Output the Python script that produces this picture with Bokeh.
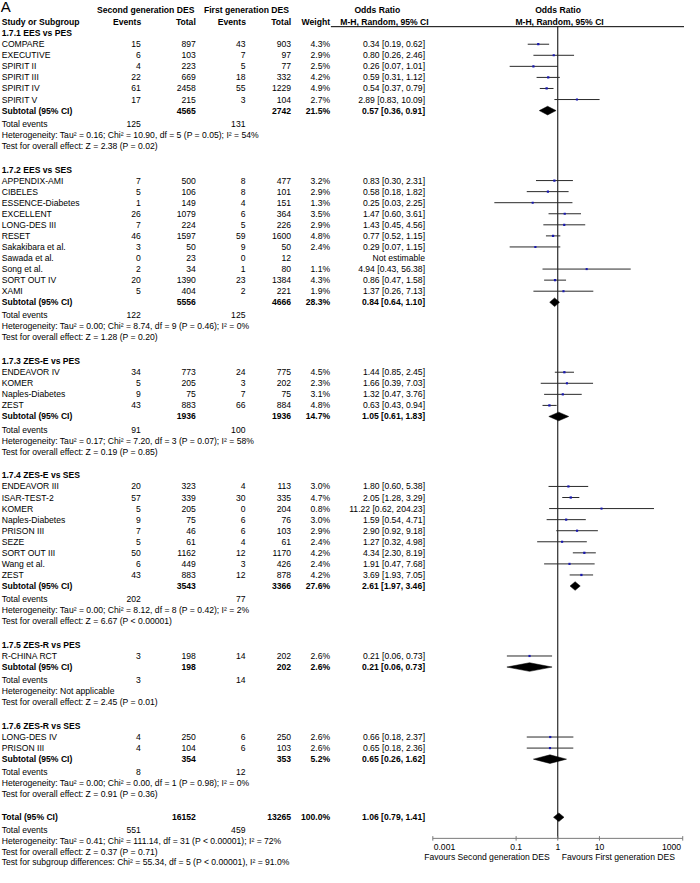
from bokeh.plotting import figure
from bokeh.models import ColumnDataSource, Range1d, LogScale
from bokeh.core.properties import value, field
from bokeh.embed import file_html
from bokeh.resources import INLINE

# ---------------- data ----------------
group_titles = ["1.7.1 EES vs PES", "1.7.2 EES vs SES", "1.7.3 ZES-E vs PES",
                "1.7.4 ZES-E vs SES", "1.7.5 ZES-R vs PES", "1.7.6 ZES-R vs SES"]

study_group = [0, 0, 0, 0, 0, 0,
               1, 1, 1, 1, 1, 1, 1, 1, 1, 1, 1,
               2, 2, 2, 2,
               3, 3, 3, 3, 3, 3, 3, 3, 3,
               4,
               5, 5]
study_names = ["COMPARE", "EXECUTIVE", "SPIRIT II", "SPIRIT III", "SPIRIT IV", "SPIRIT V",
               "APPENDIX-AMI", "CIBELES", "ESSENCE-Diabetes", "EXCELLENT", "LONG-DES III", "RESET",
               "Sakakibara et al.", "Sawada et al.", "Song et al.", "SORT OUT IV", "XAMI",
               "ENDEAVOR IV", "KOMER", "Naples-Diabetes", "ZEST",
               "ENDEAVOR III", "ISAR-TEST-2", "KOMER", "Naples-Diabetes", "PRISON III", "SEZE",
               "SORT OUT III", "Wang et al.", "ZEST",
               "R-CHINA RCT",
               "LONG-DES IV", "PRISON III"]
ev_second = [15, 6, 4, 22, 61, 17,
             7, 5, 1, 26, 7, 46, 3, 0, 2, 20, 5,
             34, 5, 9, 43,
             20, 57, 5, 9, 7, 5, 50, 6, 43,
             3,
             4, 4]
tot_second = [897, 103, 223, 669, 2458, 215,
              500, 106, 149, 1079, 224, 1597, 50, 23, 34, 1390, 404,
              773, 205, 75, 883,
              323, 339, 205, 75, 46, 61, 1162, 449, 883,
              198,
              250, 104]
ev_first = [43, 7, 5, 18, 55, 3,
            8, 8, 4, 6, 5, 59, 9, 0, 1, 23, 2,
            24, 3, 7, 66,
            4, 30, 0, 6, 6, 4, 12, 3, 12,
            14,
            6, 6]
tot_first = [903, 97, 77, 332, 1229, 104,
             477, 101, 151, 364, 226, 1600, 50, 12, 80, 1384, 221,
             775, 202, 75, 884,
             113, 335, 204, 76, 103, 61, 1170, 426, 878,
             202,
             250, 103]
weight_pct = [4.3, 2.9, 2.5, 4.2, 4.9, 2.7,
              3.2, 2.9, 1.3, 3.5, 2.9, 4.8, 2.4, None, 1.1, 4.3, 1.9,
              4.5, 2.3, 3.1, 4.8,
              3.0, 4.7, 0.8, 3.0, 2.9, 2.4, 4.2, 2.4, 4.2,
              2.6,
              2.6, 2.6]
odds_ratio = [0.34, 0.80, 0.26, 0.59, 0.54, 2.89,
              0.83, 0.58, 0.25, 1.47, 1.43, 0.77, 0.29, None, 4.94, 0.86, 1.37,
              1.44, 1.66, 1.32, 0.63,
              1.80, 2.05, 11.22, 1.59, 2.90, 1.27, 4.34, 1.91, 3.69,
              0.21,
              0.66, 0.65]
ci_low = [0.19, 0.26, 0.07, 0.31, 0.37, 0.83,
          0.30, 0.18, 0.03, 0.60, 0.45, 0.52, 0.07, None, 0.43, 0.47, 0.26,
          0.85, 0.39, 0.47, 0.43,
          0.60, 1.28, 0.62, 0.54, 0.92, 0.32, 2.30, 0.47, 1.93,
          0.06,
          0.18, 0.18]
ci_high = [0.62, 2.46, 1.01, 1.12, 0.79, 10.09,
           2.31, 1.82, 2.25, 3.61, 4.56, 1.15, 1.15, None, 56.38, 1.58, 7.13,
           2.45, 7.03, 3.76, 0.94,
           5.38, 3.29, 204.23, 4.71, 9.18, 4.98, 8.19, 7.68, 7.05,
           0.73,
           2.37, 2.36]

sub_tot_second = [4565, 5556, 1936, 3543, 198, 354]
sub_tot_first = [2742, 4666, 1936, 3366, 202, 353]
sub_weight = [21.5, 28.3, 14.7, 27.6, 2.6, 5.2]
sub_or = [0.57, 0.84, 1.05, 2.61, 0.21, 0.65]
sub_low = [0.36, 0.64, 0.61, 1.97, 0.06, 0.26]
sub_high = [0.91, 1.10, 1.83, 3.46, 0.73, 1.62]
sub_ev_second = [125, 122, 91, 202, 3, 8]
sub_ev_first = [131, 125, 100, 77, 14, 12]
sub_heterogeneity = [
    "Heterogeneity: Tau\u00b2 = 0.16; Chi\u00b2 = 10.90, df = 5 (P = 0.05); I\u00b2 = 54%",
    "Heterogeneity: Tau\u00b2 = 0.00; Chi\u00b2 = 8.74, df = 9 (P = 0.46); I\u00b2 = 0%",
    "Heterogeneity: Tau\u00b2 = 0.17; Chi\u00b2 = 7.20, df = 3 (P = 0.07); I\u00b2 = 58%",
    "Heterogeneity: Tau\u00b2 = 0.00; Chi\u00b2 = 8.12, df = 8 (P = 0.42); I\u00b2 = 2%",
    "Heterogeneity: Not applicable",
    "Heterogeneity: Tau\u00b2 = 0.00; Chi\u00b2 = 0.00, df = 1 (P = 0.98); I\u00b2 = 0%",
]
sub_effect = [
    "Test for overall effect: Z = 2.38 (P = 0.02)",
    "Test for overall effect: Z = 1.28 (P = 0.20)",
    "Test for overall effect: Z = 0.19 (P = 0.85)",
    "Test for overall effect: Z = 6.67 (P < 0.00001)",
    "Test for overall effect: Z = 2.45 (P = 0.01)",
    "Test for overall effect: Z = 0.91 (P = 0.36)",
]

total_second = 16152
total_first = 13265
total_weight = 100.0
total_or = 1.06
total_low = 0.79
total_high = 1.41
total_ev_second = 551
total_ev_first = 459
total_heterogeneity = "Heterogeneity: Tau\u00b2 = 0.41; Chi\u00b2 = 111.14, df = 31 (P < 0.00001); I\u00b2 = 72%"
total_effect = "Test for overall effect: Z = 0.37 (P = 0.71)"
subgroup_diff = "Test for subgroup differences: Chi\u00b2 = 55.34, df = 5 (P < 0.00001), I\u00b2 = 91.0%"

axis_ticks = [0.001, 0.1, 1, 10, 1000]
axis_tick_labels = ["0.001", "0.1", "1", "10", "1000"]
favours_left = "Favours Second generation DES"
favours_right = "Favours First generation DES"

# ---------------- layout (reference-pixel coordinates) ----------------
FONT = "Liberation Sans"
FS = "8.6px"
X0, X1 = 1.5, 694.0
Y_TOP, Y_BOT = 0.0, 884.0
NULL_X, DECADE = 565.7, 42.17          # pixel of OR = 1 and pixels per decade
LOG_LO = 10 ** ((X0 - NULL_X) / DECADE)
LOG_HI = 10 ** ((X1 - NULL_X) / DECADE)

X_NAME, X_EV2, X_TOT2, X_EV1, X_TOT1, X_W, X_CI = 2.7, 143.5, 199.2, 249.5, 295.7, 335.2, 431.3
ROW, GAP_TE, GAP_GRP = 11.28, 13.3, 24.2
Y_FIRST = 33.3
Y_HLINE = 26.7
Y_AXIS = 854.3
DIAM_H = 4.4

p = figure(width=684, height=867, output_backend="svg", toolbar_location=None,
           x_range=Range1d(X0, X1), y_range=Range1d(Y_BOT, Y_TOP),
           x_axis_location=None, y_axis_location=None,
           extra_x_ranges={"or": Range1d(LOG_LO, LOG_HI)},
           extra_x_scales={"or": LogScale()},
           min_border=0, background_fill_color="white", border_fill_color="white")
p.outline_line_color = None
p.grid.visible = False

T = dict(x=[], y=[], text=[], align=[], style=[])


def put(x, y, s, align="left", bold=False):
    T["x"].append(x)
    T["y"].append(y)
    T["text"].append(s)
    T["align"].append(align)
    T["style"].append("bold" if bold else "normal")


# headers
hdr_y1, hdr_y2 = 10.0, 22.0
put(148.5, hdr_y1, "Second generation DES", "center", True)
put(250.5, hdr_y1, "First generation DES", "center", True)
put(383, hdr_y1, "Odds Ratio", "center", True)
put(435, hdr_y2, "M-H, Random, 95% CI", "right", True)
put(566, hdr_y1, "Odds Ratio", "center", True)
put(567.5, hdr_y2, "M-H, Random, 95% CI", "center", True)
put(X_NAME, hdr_y2, "Study or Subgroup", "left", True)
put(X_EV2 + 0.5, hdr_y2, "Events", "right", True)
put(X_TOT2, hdr_y2, "Total", "right", True)
put(X_EV1 + 0.5, hdr_y2, "Events", "right", True)
put(X_TOT1, hdr_y2, "Total", "right", True)
put(X_W, hdr_y2, "Weight", "right", True)


def fmt_ci(o, lo, hi):
    return f"{o:.2f} [{lo:.2f}, {hi:.2f}]"


st_y = []
sub_y = []
y = Y_FIRST
for g, title in enumerate(group_titles):
    put(X_NAME, y, title, "left", True)
    for i, grp in enumerate(study_group):
        if grp != g:
            continue
        y += ROW
        st_y.append(y)
        put(X_NAME, y, study_names[i])
        put(X_EV2, y, str(ev_second[i]), "right")
        put(X_TOT2, y, str(tot_second[i]), "right")
        put(X_EV1, y, str(ev_first[i]), "right")
        put(X_TOT1, y, str(tot_first[i]), "right")
        if weight_pct[i] is not None:
            put(X_W, y, f"{weight_pct[i]:.1f}%", "right")
            put(X_CI, y, fmt_ci(odds_ratio[i], ci_low[i], ci_high[i]), "right")
        else:
            put(X_CI, y, "Not estimable", "right")
    y += ROW
    sub_y.append(y)
    put(X_NAME, y, "Subtotal (95% CI)", "left", True)
    put(X_TOT2, y, str(sub_tot_second[g]), "right", True)
    put(X_TOT1, y, str(sub_tot_first[g]), "right", True)
    put(X_W, y, f"{sub_weight[g]:.1f}%", "right", True)
    put(X_CI, y, fmt_ci(sub_or[g], sub_low[g], sub_high[g]), "right", True)
    y += GAP_TE
    put(X_NAME, y, "Total events")
    put(X_EV2, y, str(sub_ev_second[g]), "right")
    put(X_EV1, y, str(sub_ev_first[g]), "right")
    y += ROW
    put(X_NAME, y, sub_heterogeneity[g])
    y += ROW
    put(X_NAME, y, sub_effect[g])
    y += GAP_GRP

y -= 0.8
tot_y = y
put(X_NAME, y, "Total (95% CI)", "left", True)
put(X_TOT2, y, str(total_second), "right", True)
put(X_TOT1, y, str(total_first), "right", True)
put(X_W, y, f"{total_weight:.1f}%", "right", True)
put(X_CI, y, fmt_ci(total_or, total_low, total_high), "right", True)
y += GAP_TE
put(X_NAME, y, "Total events")
put(X_EV2, y, str(total_ev_second), "right")
put(X_EV1, y, str(total_ev_first), "right")
y += ROW - 0.4
put(X_NAME, y, total_heterogeneity)
y += ROW - 0.4
put(X_NAME, y, total_effect)
y += ROW - 0.4
put(X_NAME, y, subgroup_diff)

# ---------------- forest plot ----------------
# header rule and null line
p.segment(x0=[336], x1=[X1], y0=[Y_HLINE], y1=[Y_HLINE], line_color="#000000", line_width=1)
p.segment(x0=[1.0], x1=[1.0], y0=[Y_HLINE], y1=[Y_AXIS], line_color="#000000",
          line_width=1, x_range_name="or")

# study CIs and squares
est = [i for i in range(len(study_names)) if odds_ratio[i] is not None]
ci_src = ColumnDataSource(dict(
    lo=[ci_low[i] for i in est], hi=[ci_high[i] for i in est],
    o=[odds_ratio[i] for i in est], y=[st_y[i] for i in est],
    size=[2.0 + 0.06 * weight_pct[i] for i in est]))
p.segment(x0="lo", x1="hi", y0="y", y1="y", source=ci_src, line_color="#2a2a2a",
          line_width=1, x_range_name="or")
p.scatter(x="o", y="y", size="size", marker="square", source=ci_src,
          fill_color="#1818b0", line_color=None, x_range_name="or")

# diamonds (subtotals and total)
d_xs, d_ys = [], []
for g in range(len(group_titles)):
    d_xs.append([sub_low[g], sub_or[g], sub_high[g], sub_or[g]])
    d_ys.append([sub_y[g], sub_y[g] - DIAM_H, sub_y[g], sub_y[g] + DIAM_H])
d_xs.append([total_low, total_or, total_high, total_or])
d_ys.append([tot_y, tot_y - DIAM_H, tot_y, tot_y + DIAM_H])
p.patches(xs=d_xs, ys=d_ys, fill_color="#000000", line_color="#000000",
          line_width=0.5, x_range_name="or")

# bottom axis
p.segment(x0=[axis_ticks[0]], x1=[axis_ticks[-1]], y0=[Y_AXIS], y1=[Y_AXIS],
          line_color="#7a7a7a", line_width=1, x_range_name="or")
p.segment(x0=axis_ticks, x1=axis_ticks, y0=[Y_AXIS - 2.3] * len(axis_ticks),
          y1=[Y_AXIS + 2.3] * len(axis_ticks), line_color="#7a7a7a", line_width=1,
          x_range_name="or")
tick_align = ["left"] + ["center"] * (len(axis_ticks) - 2) + ["right"]
tick_x = [axis_ticks[0] * 1.05] + axis_ticks[1:-1] + [axis_ticks[-1] / 1.1]
p.text(x=tick_x, y=[Y_AXIS + 8.4] * len(axis_ticks), text=axis_tick_labels,
       text_align=tick_align, text_baseline="middle", text_font=value(FONT),
       text_font_size=value(FS), text_color="#000000", x_range_name="or")
p.text(x=[1.0, 1.0], y=[Y_AXIS + 19.0] * 2, text=[favours_left, favours_right],
       x_offset=[-8, 4], text_align=["right", "left"], text_baseline="middle",
       text_font=value(FONT), text_font_size=value(FS), text_color="#000000",
       x_range_name="or")

# table text
src = ColumnDataSource(T)
p.text(x="x", y="y", text="text", source=src, text_align=field("align"),
       text_font_style=field("style"), text_baseline="middle", text_font=value(FONT),
       text_font_size=value(FS), text_color="#000000")
p.text(x=[1.8], y=[6.2], text=["A"], text_align="left", text_baseline="middle",
       text_font=value(FONT), text_font_size=value("15px"), text_color="#000000")

open("out.html", "w").write(file_html(p, INLINE))
